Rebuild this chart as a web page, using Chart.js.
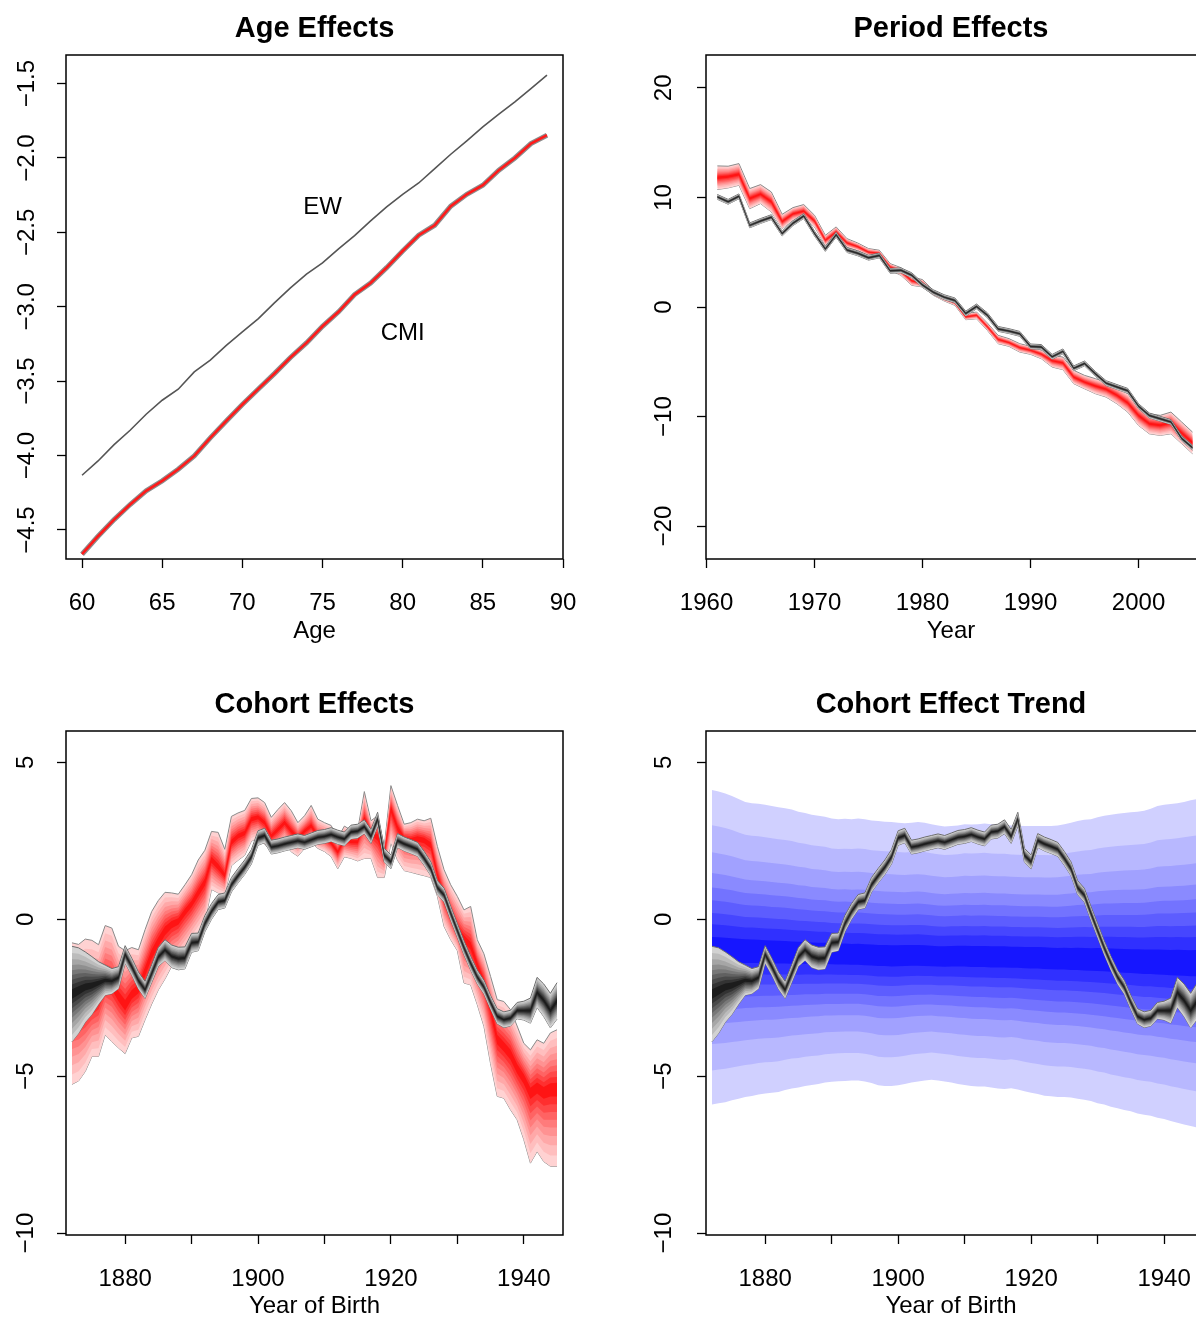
<!DOCTYPE html>
<html lang="en">
<head>
<meta charset="utf-8">
<title>Age, Period and Cohort Effects</title>
<script src="https://cdn.jsdelivr.net/npm/chart.js@4.4.1/dist/chart.umd.min.js"></script>
<style>
  html, body { margin: 0; padding: 0; background: #fff; }
  #wrap { position: relative; width: 1196px; height: 1318px; overflow: hidden; }
  canvas { position: absolute; }
  #ageChart { left: 0; top: 0; }
  #periodChart { left: 598px; top: 0; }
  #cohortChart { left: 0; top: 659px; }
  #trendChart { left: 598px; top: 659px; }
</style>
</head>
<body>
<div id="wrap">
  <canvas id="ageChart" width="598" height="659"></canvas>
  <canvas id="periodChart" width="598" height="659"></canvas>
  <canvas id="cohortChart" width="598" height="659"></canvas>
  <canvas id="trendChart" width="598" height="659"></canvas>
</div>
<script>
// ---- Age effects ----
const ages = [60, 61, 62, 63, 64, 65, 66, 67, 68, 69, 70, 71, 72, 73, 74, 75, 76, 77, 78, 79,
              80, 81, 82, 83, 84, 85, 86, 87, 88, 89];
const ewAge = [-4.132, -4.036, -3.926, -3.830, -3.722, -3.628, -3.554, -3.438, -3.359, -3.259,
               -3.169, -3.079, -2.974, -2.873, -2.781, -2.705, -2.611, -2.522, -2.423, -2.329,
               -2.244, -2.168, -2.071, -1.975, -1.885, -1.791, -1.706, -1.623, -1.534, -1.444];
const cmiAge = [-4.663, -4.542, -4.430, -4.329, -4.237, -4.170, -4.092, -4.002, -3.881, -3.767,
                -3.657, -3.552, -3.449, -3.341, -3.243, -3.131, -3.034, -2.918, -2.840, -2.737,
                -2.625, -2.519, -2.452, -2.324, -2.244, -2.183, -2.082, -2.000, -1.903, -1.847];
const ageTicks = [-4.5, -4.0, -3.5, -3.0, -2.5, -2.0, -1.5];
const ageTickLabels = ['\u22124.5', '\u22124.0', '\u22123.5', '\u22123.0', '\u22122.5', '\u22122.0', '\u22121.5'];
const ageXTicks = [60, 65, 70, 75, 80, 85, 90];
const ageXLabels = ['60', '65', '70', '75', '80', '85', '90'];

// ---- Period effects ----
const periodYears = [1961, 1962, 1963, 1964, 1965, 1966, 1967, 1968, 1969, 1970,
                     1971, 1972, 1973, 1974, 1975, 1976, 1977, 1978, 1979, 1980,
                     1981, 1982, 1983, 1984, 1985, 1986, 1987, 1988, 1989, 1990,
                     1991, 1992, 1993, 1994, 1995, 1996, 1997, 1998, 1999, 2000,
                     2001, 2002, 2003, 2004, 2005];
const cmiPeriodMid = [11.8, 11.9, 12.1, 9.9, 10.3, 9.6, 7.8, 8.5, 8.75, 7.85,
                      6.1, 6.85, 5.85, 5.5, 5.0, 4.9, 3.65, 3.25, 2.4, 2.15,
                      1.3, 0.8, 0.4, -0.9, -0.75, -1.8, -2.95, -3.25, -3.7, -3.95,
                      -4.3, -4.9, -5.1, -6.4, -6.85, -7.2, -7.5, -8.05, -8.75, -9.9,
                      -10.65, -10.8, -10.55, -11.5, -12.4];
const cmiPeriodHi = [12.88, 12.85, 13.09, 10.81, 11.17, 10.50, 8.46, 9.07, 9.35, 8.37,
                     6.54, 7.31, 6.24, 5.84, 5.33, 5.18, 3.96, 3.59, 2.74, 2.50,
                     1.52, 1.07, 0.67, -0.61, -0.46, -1.46, -2.59, -2.89, -3.35, -3.59,
                     -3.96, -4.41, -4.57, -5.78, -6.24, -6.54, -6.85, -7.31, -7.91, -8.98,
                     -9.74, -9.89, -9.59, -10.50, -11.42];
const cmiPeriodLo = [10.72, 10.87, 11.11, 8.98, 9.44, 8.68, 7.15, 7.91, 8.22, 7.31,
                     5.63, 6.39, 5.48, 5.18, 4.72, 4.57, 3.35, 2.89, 1.98, 1.83,
                     1.07, 0.55, 0.15, -1.16, -1.07, -2.13, -3.35, -3.59, -4.11, -4.32,
                     -4.72, -5.48, -5.72, -7.00, -7.46, -7.91, -8.22, -8.83, -9.59, -10.81,
                     -11.57, -11.72, -11.57, -12.48, -13.39];
const ewPeriodMid = [10.05, 9.6, 10.1, 7.45, 7.85, 8.2, 6.7, 7.65, 8.3, 6.7,
                     5.3, 6.6, 5.2, 4.9, 4.5, 4.7, 3.3, 3.35, 2.9, 2.0,
                     1.35, 0.9, 0.6, -0.6, 0.05, -0.75, -2.0, -2.2, -2.45, -3.6,
                     -3.65, -4.55, -4.05, -5.6, -5.15, -6.1, -6.95, -7.3, -7.65, -9.05,
                     -9.9, -10.2, -10.5, -12.0, -12.85];
const ewPeriodSpread = 0.22;
const periodTicks = [-20, -10, 0, 10, 20];
const periodTickLabels = ['\u221220', '\u221210', '0', '10', '20'];
const periodXTicks = [1960, 1970, 1980, 1990, 2000];
const periodXLabels = ['1960', '1970', '1980', '1990', '2000'];

// ---- Cohort effects ----
const cohortYears = [1872, 1873, 1874, 1875, 1876, 1877, 1878, 1879, 1880, 1881,
                     1882, 1883, 1884, 1885, 1886, 1887, 1888, 1889, 1890, 1891,
                     1892, 1893, 1894, 1895, 1896, 1897, 1898, 1899, 1900, 1901,
                     1902, 1903, 1904, 1905, 1906, 1907, 1908, 1909, 1910, 1911,
                     1912, 1913, 1914, 1915, 1916, 1917, 1918, 1919, 1920, 1921,
                     1922, 1923, 1924, 1925, 1926, 1927, 1928, 1929, 1930, 1931,
                     1932, 1933, 1934, 1935, 1936, 1937, 1938, 1939, 1940, 1941,
                     1942, 1943, 1944, 1945];
const cmiCohortMid = [-3.00, -2.95, -2.85, -2.70, -2.50, -1.95, -2.05, -2.45, -2.75, -2.40,
                      -2.20, -1.65, -1.10, -0.70, -0.35, -0.15, -0.05, 0.25, 0.50, 0.85,
                      1.20, 1.90, 1.66, 1.39, 2.45, 2.65, 2.75, 3.19, 3.25, 3.08,
                      2.65, 2.86, 3.08, 2.81, 2.59, 2.81, 2.97, 2.64, 2.59, 2.43,
                      2.15, 2.54, 2.48, 2.48, 3.19, 2.75, 2.64, 2.10, 3.52, 2.92,
                      2.59, 2.54, 2.59, 2.54, 2.37, 1.40, 0.70, 0.15, -0.35, -0.60,
                      -0.85, -1.45, -2.00, -2.85, -3.80, -4.05, -4.30, -4.75, -5.05, -5.50,
                      -5.35, -5.50, -5.40, -5.40];
const cmiCohortHi = [-0.75, -0.80, -0.63, -0.67, -0.81, -0.20, -0.28, -0.86, -1.00, -0.90,
                     -0.97, -0.33, 0.25, 0.60, 0.86, 0.84, 0.80, 1.10, 1.42, 1.89,
                     2.20, 2.80, 2.77, 2.23, 3.28, 3.39, 3.47, 3.85, 3.87, 3.72,
                     3.25, 3.50, 3.72, 3.46, 3.08, 3.30, 3.63, 3.19, 3.08, 2.99,
                     2.59, 2.97, 2.84, 2.84, 4.07, 3.14, 3.30, 2.32, 4.26, 3.63,
                     3.03, 3.08, 3.19, 3.14, 3.22, 2.32, 1.58, 1.10, 0.73, 0.30,
                     0.41, -0.65, -1.10, -1.82, -2.56, -2.62, -2.88, -3.40, -3.95, -4.16,
                     -3.84, -3.95, -3.62, -3.52];
const cmiCohortLo = [-5.26, -5.15, -4.85, -4.37, -4.37, -3.68, -3.90, -4.10, -4.28, -3.78,
                     -3.73, -3.20, -2.70, -2.25, -1.90, -1.50, -1.30, -1.02, -0.70, -0.40,
                     -0.09, 0.95, 0.84, 0.79, 1.71, 1.88, 2.04, 2.49, 2.59, 2.40,
                     2.16, 2.22, 2.43, 2.15, 2.01, 2.26, 2.45, 2.26, 2.16, 2.00,
                     1.61, 1.99, 1.94, 1.86, 1.94, 1.94, 1.33, 1.33, 2.43, 1.88,
                     1.55, 1.50, 1.44, 1.39, 1.33, 0.73, -0.23, -0.65, -1.00, -2.03,
                     -2.09, -2.72, -3.41, -4.60, -5.64, -5.70, -6.07, -6.39, -7.02, -7.77,
                     -7.40, -7.72, -7.87, -7.87];
const ewCohortMid = [-2.38, -2.27, -2.16, -2.11, -2.03, -1.94, -1.97, -1.86, -1.12, -1.51,
                     -1.95, -2.25, -1.73, -1.20, -0.98, -1.18, -1.25, -1.23, -0.75, -0.72,
                     -0.14, 0.25, 0.55, 0.60, 1.10, 1.39, 1.66, 1.99, 2.59, 2.67,
                     2.30, 2.34, 2.40, 2.45, 2.50, 2.45, 2.53, 2.61, 2.64, 2.70,
                     2.62, 2.56, 2.78, 2.81, 2.95, 2.64, 3.19, 2.04, 1.83, 2.51,
                     2.40, 2.32, 2.23, 1.94, 1.61, 1.01, 0.77, 0.19, -0.36, -0.91,
                     -1.40, -1.84, -2.16, -2.65, -3.09, -3.20, -3.15, -2.91, -2.91, -2.91,
                     -2.33, -2.58, -2.91, -2.60];
const ewCohortSpread = [1.52, 1.36, 1.12, 0.92, 0.68, 0.48, 0.40, 0.35, 0.28, 0.27,
                        0.27, 0.27, 0.28, 0.30, 0.33, 0.36, 0.36, 0.35, 0.30, 0.28,
                        0.26, 0.25, 0.24, 0.24, 0.23, 0.23, 0.23, 0.23, 0.23, 0.23,
                        0.22, 0.22, 0.22, 0.22, 0.22, 0.22, 0.22, 0.22, 0.22, 0.22,
                        0.22, 0.22, 0.22, 0.22, 0.22, 0.22, 0.22, 0.22, 0.22, 0.22,
                        0.22, 0.22, 0.22, 0.22, 0.22, 0.22, 0.22, 0.22, 0.22, 0.22,
                        0.22, 0.22, 0.22, 0.22, 0.24, 0.25, 0.25, 0.26, 0.30, 0.40,
                        0.48, 0.52, 0.55, 0.58];
const cohortTicks = [-10, -5, 0, 5];
const cohortTickLabels = ['\u221210', '\u22125', '0', '5'];
const cohortXTicks = [1880, 1890, 1900, 1910, 1920, 1930, 1940];
const cohortXLabels = ['1880', '', '1900', '', '1920', '', '1940'];

// ---- Cohort effect trend (projection fan) ----
const trendMid = [-0.97, -0.98, -0.99, -1.00, -1.01, -1.02, -1.02, -1.03, -1.04, -1.05,
                  -1.05, -1.06, -1.07, -1.08, -1.08, -1.09, -1.10, -1.10, -1.11, -1.12,
                  -1.12, -1.13, -1.13, -1.14, -1.15, -1.16, -1.16, -1.17, -1.17, -1.16,
                  -1.16, -1.16, -1.17, -1.18, -1.19, -1.19, -1.18, -1.18, -1.18, -1.19,
                  -1.19, -1.19, -1.20, -1.20, -1.20, -1.21, -1.21, -1.22, -1.22, -1.22,
                  -1.23, -1.24, -1.25, -1.25, -1.26, -1.26, -1.27, -1.28, -1.28, -1.29,
                  -1.30, -1.31, -1.32, -1.33, -1.34, -1.35, -1.35, -1.36, -1.37, -1.38,
                  -1.38, -1.39, -1.40, -1.40];
const trendHi = [4.12, 4.07, 4.01, 3.93, 3.83, 3.74, 3.70, 3.68, 3.65, 3.61,
                 3.57, 3.54, 3.50, 3.43, 3.39, 3.33, 3.30, 3.27, 3.21, 3.19,
                 3.20, 3.19, 3.21, 3.19, 3.15, 3.13, 3.11, 3.10, 3.08, 3.06,
                 3.08, 3.10, 3.08, 3.03, 2.99, 2.96, 2.97, 2.99, 3.03, 3.02,
                 3.03, 3.05, 3.03, 3.02, 3.02, 2.99, 2.98, 2.97, 2.97, 2.97,
                 2.97, 2.97, 2.99, 3.03, 3.08, 3.13, 3.17, 3.19, 3.25, 3.30,
                 3.33, 3.36, 3.39, 3.41, 3.43, 3.46, 3.52, 3.61, 3.65, 3.67,
                 3.70, 3.74, 3.79, 3.83];
const trendLo = [-5.90, -5.86, -5.83, -5.77, -5.72, -5.66, -5.63, -5.58, -5.55, -5.53,
                 -5.50, -5.44, -5.39, -5.36, -5.31, -5.28, -5.25, -5.20, -5.18, -5.16,
                 -5.15, -5.14, -5.14, -5.17, -5.22, -5.29, -5.31, -5.31, -5.29, -5.25,
                 -5.20, -5.17, -5.14, -5.11, -5.14, -5.17, -5.20, -5.25, -5.28, -5.31,
                 -5.33, -5.33, -5.36, -5.39, -5.41, -5.38, -5.42, -5.48, -5.53, -5.57,
                 -5.62, -5.64, -5.66, -5.66, -5.68, -5.72, -5.75, -5.79, -5.86, -5.90,
                 -5.97, -6.02, -6.08, -6.12, -6.19, -6.23, -6.26, -6.32, -6.36, -6.43,
                 -6.48, -6.54, -6.59, -6.64];

// fan shading: share of the outer band each layer covers, and its colour
const redFracs = [1, 0.86, 0.73, 0.61, 0.5, 0.4, 0.3, 0.2, 0.1];
const redShades = ['#ffd2d2', '#ffbebe', '#ffa8a8', '#ff9292', '#ff7b7b', '#ff6363', '#ff4949', '#ff2f2f', '#ff1414'];
const greyShades = ['#d2d2d2', '#bcbcbc', '#a6a6a6', '#8f8f8f', '#787878', '#616161', '#4a4a4a', '#333333', '#1c1c1c'];
const blueFracs = [1, 0.78, 0.61, 0.48, 0.39, 0.31, 0.23, 0.16, 0.08];
const blueShades = ['#d0d0ff', '#b8b8ff', '#a1a1ff', '#8a8aff', '#7373ff', '#5d5dff', '#4646ff', '#3030ff', '#1616ff'];

const FONT = '"Liberation Sans", Arial, Helvetica, sans-serif';
Chart.defaults.font.family = FONT;
Chart.defaults.color = '#000';

window.onload = init;

/**
 * Draws all four panels
 */
function init() {
    drawAge();
    drawPeriod();
    drawCohort();
    drawTrend();
}

/**
 * Builds line datasets for a fan chart, innermost layer first so it ends up on top
 */
function fanSets(xs, mid, lo, hi, shades, fracs, edge) {
    const sets = [];
    for (let i = fracs.length - 1; i >= 0; i--) {
        const f = fracs[i];
        const outer = i === 0;
        const line = outer ? edge : 'rgba(0,0,0,0)';
        sets.push({
            data: xs.map((x, j) => ({ x: x, y: mid[j] + f * (hi[j] - mid[j]) })),
            fill: '+1', backgroundColor: shades[i], borderColor: line, borderWidth: 1,
            pointRadius: 0, tension: 0
        });
        sets.push({
            data: xs.map((x, j) => ({ x: x, y: mid[j] - f * (mid[j] - lo[j]) })),
            fill: false, borderColor: line, borderWidth: 1, pointRadius: 0, tension: 0
        });
    }
    return sets;
}

// box round the plot region, like R's bty = "o"
const framePlugin = {
    id: 'frame',
    afterDraw(chart, args, opts) {
        const a = chart.chartArea;
        const ctx = chart.ctx;
        const right = opts.openRight ? a.right + 20 : a.right;
        ctx.save();
        ctx.strokeStyle = '#000';
        ctx.lineWidth = 1.5;
        ctx.strokeRect(a.left, a.top, right - a.left, a.bottom - a.top);
        ctx.restore();
    }
};

// text labels placed in data coordinates
const notePlugin = {
    id: 'notes',
    afterDatasetsDraw(chart, args, opts) {
        if (!opts.items) return;
        const ctx = chart.ctx;
        const xs = chart.scales.x, ys = chart.scales.y;
        ctx.save();
        ctx.font = '24px ' + FONT;
        ctx.fillStyle = '#000';
        ctx.textAlign = 'center';
        ctx.textBaseline = 'middle';
        opts.items.forEach(n => ctx.fillText(n.text, xs.getPixelForValue(n.x), ys.getPixelForValue(n.y)));
        ctx.restore();
    }
};

/**
 * Common options for one panel
 */
function panelOptions(p) {
    const axisGrid = { drawOnChartArea: false, drawTicks: true, tickLength: 9, tickColor: '#000', tickWidth: 1.3 };
    return {
        responsive: false,
        animation: false,
        events: [],
        layout: { padding: { left: 0, right: p.padRight, top: 0, bottom: 0 } },
        plugins: {
            legend: { display: false },
            tooltip: { enabled: false },
            title: {
                display: true, text: p.title, fullSize: false, color: '#000',
                font: { size: 29, weight: 'bold' },
                padding: { top: p.titleTop, bottom: p.titleBottom }
            },
            frame: { openRight: p.openRight },
            notes: { items: p.notes }
        },
        scales: {
            x: {
                type: 'linear', position: 'bottom', min: p.xMin, max: p.xMax,
                afterBuildTicks: s => { s.ticks = p.xTicks.map(v => ({ value: v })); },
                afterFit: s => { s.height = p.xHeight; s.paddingLeft = 0; s.paddingRight = 0; },
                grid: axisGrid,
                border: { display: false },
                ticks: {
                    autoSkip: false, maxRotation: 0, padding: 20.6, color: '#000',
                    font: { size: 24 }, callback: (v, i) => p.xLabels[i]
                },
                title: {
                    display: true, text: p.xTitle, color: '#000',
                    font: { size: 24, lineHeight: 1 }, padding: { top: 0, bottom: p.xTitleBottom }
                }
            },
            y: {
                type: 'linear', min: p.yMin, max: p.yMax,
                afterBuildTicks: s => { s.ticks = p.yTicks.map(v => ({ value: v })); },
                afterFit: s => { s.width = p.yWidth; s.paddingTop = 0; s.paddingBottom = 0; },
                grid: axisGrid,
                border: { display: false },
                ticks: {
                    autoSkip: false, minRotation: 90, maxRotation: 90, crossAlign: 'center',
                    padding: p.yPad, color: '#000', font: { size: 24 },
                    callback: (v, i) => p.yLabels[i]
                }
            }
        }
    };
}

function makeChart(id, datasets, p) {
    new Chart(document.getElementById(id), {
        type: 'line',
        data: { datasets: datasets },
        options: panelOptions(p),
        plugins: [framePlugin, notePlugin]
    });
}

function drawAge() {
    const sets = [
        { data: ages.map((x, i) => ({ x: x, y: cmiAge[i] })), borderColor: '#ff1a1a', borderWidth: 2.6, pointRadius: 0, fill: false },
        { data: ages.map((x, i) => ({ x: x, y: cmiAge[i] })), borderColor: '#8c8c8c', borderWidth: 5, pointRadius: 0, fill: false },
        { data: ages.map((x, i) => ({ x: x, y: ewAge[i] })), borderColor: '#555555', borderWidth: 1.6, pointRadius: 0, fill: false }
    ];
    makeChart('ageChart', sets, {
        title: 'Age Effects', titleTop: 11.6, titleBottom: 8.6, padRight: 35, openRight: false,
        xMin: 59.0, xMax: 90.0, xTicks: ageXTicks, xLabels: ageXLabels, xTitle: 'Age', xHeight: 100, xTitleBottom: 16,
        yMin: -4.695, yMax: -1.308, yTicks: ageTicks, yLabels: ageTickLabels, yWidth: 66, yPad: 6.3,
        notes: [{ text: 'EW', x: 75, y: -2.33 }, { text: 'CMI', x: 80, y: -3.18 }]
    });
}

function drawPeriod() {
    const ewLo = ewPeriodMid.map(v => v - ewPeriodSpread);
    const ewHi = ewPeriodMid.map(v => v + ewPeriodSpread);
    const sets = fanSets(periodYears, ewPeriodMid, ewLo, ewHi, greyShades, redFracs, '#6e6e6e')
        .concat(fanSets(periodYears, cmiPeriodMid, cmiPeriodLo, cmiPeriodHi, redShades, redFracs, '#8a8a8a'));
    makeChart('periodChart', sets, {
        title: 'Period Effects', titleTop: 11.6, titleBottom: 8.6, padRight: 0, openRight: true,
        xMin: 1959.95, xMax: 2005.32, xTicks: periodXTicks, xLabels: periodXLabels, xTitle: 'Year', xHeight: 100, xTitleBottom: 16,
        yMin: -23, yMax: 23, yTicks: periodTicks, yLabels: periodTickLabels, yWidth: 108, yPad: 12.6,
        notes: null
    });
}

function ewCohortBand() {
    return {
        lo: ewCohortMid.map((v, i) => v - ewCohortSpread[i]),
        hi: ewCohortMid.map((v, i) => v + ewCohortSpread[i])
    };
}

function drawCohort() {
    const ew = ewCohortBand();
    const sets = fanSets(cohortYears, ewCohortMid, ew.lo, ew.hi, greyShades, redFracs, '#6e6e6e')
        .concat(fanSets(cohortYears, cmiCohortMid, cmiCohortLo, cmiCohortHi, redShades, redFracs, '#8a8a8a'));
    makeChart('cohortChart', sets, {
        title: 'Cohort Effects', titleTop: 28.6, titleBottom: 8.6, padRight: 35, openRight: false,
        xMin: 1871.1, xMax: 1945.9, xTicks: cohortXTicks, xLabels: cohortXLabels, xTitle: 'Year of Birth', xHeight: 83, xTitleBottom: 0,
        yMin: -10.06, yMax: 6.0, yTicks: cohortTicks, yLabels: cohortTickLabels, yWidth: 66, yPad: 10.6,
        notes: null
    });
}

function drawTrend() {
    const ew = ewCohortBand();
    const sets = fanSets(cohortYears, ewCohortMid, ew.lo, ew.hi, greyShades, redFracs, '#6e6e6e')
        .concat(fanSets(cohortYears, trendMid, trendLo, trendHi, blueShades, blueFracs, 'rgba(0,0,0,0)'));
    makeChart('trendChart', sets, {
        title: 'Cohort Effect Trend', titleTop: 28.6, titleBottom: 8.6, padRight: 0, openRight: true,
        xMin: 1871.1, xMax: 1944.8, xTicks: cohortXTicks, xLabels: cohortXLabels, xTitle: 'Year of Birth', xHeight: 83, xTitleBottom: 0,
        yMin: -10.06, yMax: 6.0, yTicks: cohortTicks, yLabels: cohortTickLabels, yWidth: 108, yPad: 12.6,
        notes: null
    });
}
</script>
</body>
</html>
